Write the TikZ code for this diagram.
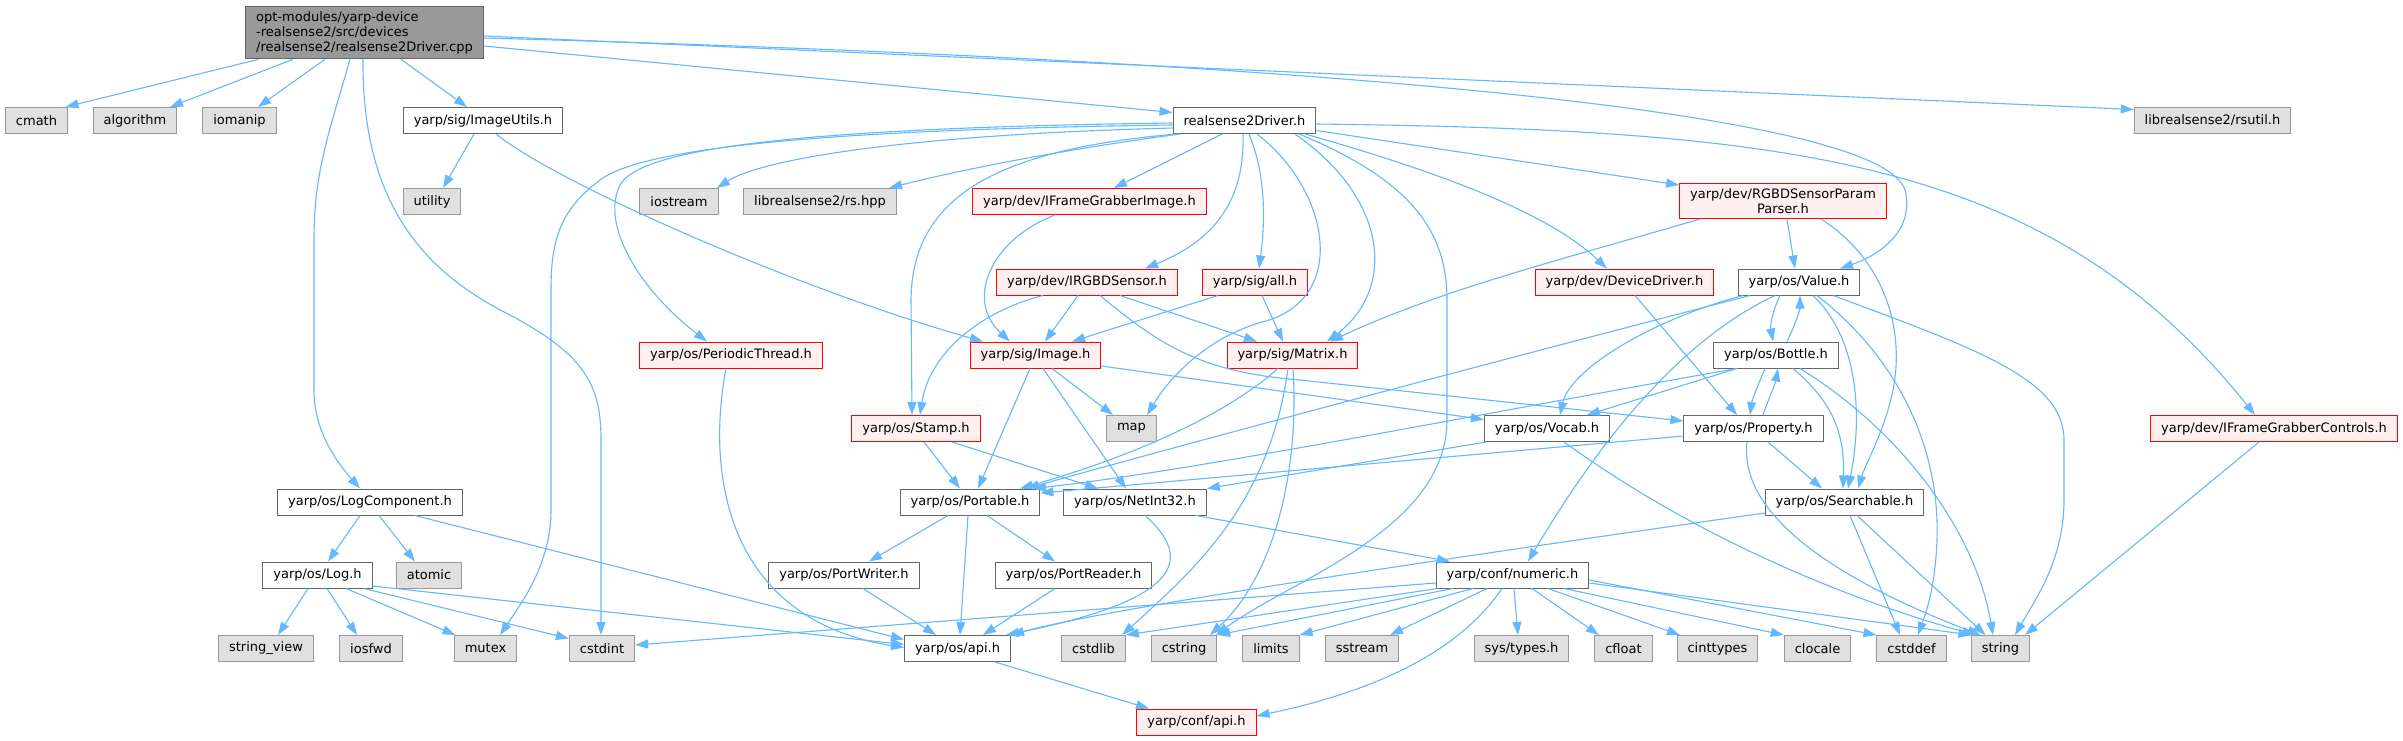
\documentclass[tikz,border=0pt]{standalone}
\usepackage{fontspec}
\setmainfont{DejaVu Sans}
\usepackage{xcolor}
\usepackage{tikz}
\usetikzlibrary{arrows.meta}
\definecolor{edgeblue}{HTML}{63B8FF}
\definecolor{sysfill}{HTML}{E0E0E0}
\definecolor{sysdraw}{HTML}{999999}
\definecolor{hdrdraw}{HTML}{666666}
\definecolor{redfill}{HTML}{FFF0F0}

\begin{document}
\begin{tikzpicture}[x=1pt,y=-1pt,font=\fontsize{13}{15}\selectfont,
  nbox/.style={draw,line width=1pt,minimum height=26pt,inner xsep=10.5pt,inner ysep=3pt},
  hdrbox/.style={nbox,draw=hdrdraw,fill=white},
  sysbox/.style={nbox,draw=sysdraw,fill=sysfill},
  redbox/.style={nbox,draw=red,fill=redfill},
  topbox/.style={nbox,draw=hdrdraw,fill=sysdraw,align=left,inner ysep=5pt},
  incl/.style={draw=edgeblue,line width=1.1pt,-{Triangle[length=13pt,width=9pt]}}]
  \useasboundingbox (0,0) rectangle (2403,740);
  \fill[white] (0,0) rectangle (2403,740);

  \node[topbox] (cpp) at (364.5,32.5) {opt-modules/yarp-device\\-realsense2/src/devices\\/realsense2/realsense2Driver.cpp};
  \node[sysbox] (cmath) at (36.5,120.5) {cmath};
  \node[sysbox] (algorithm) at (135,120.5) {algorithm};
  \node[sysbox] (iomanip) at (239.5,120.5) {iomanip};
  \node[hdrbox] (imgutils) at (483,120.5) {yarp/sig/ImageUtils.h};
  \node[hdrbox] (rsdrv) at (1244.5,120.5) {realsense2Driver.h};
  \node[sysbox] (rsutil) at (2212.5,120.5) {librealsense2/rsutil.h};
  \node[sysbox] (utility) at (432,201.5) {utility};
  \node[sysbox] (iostream) at (679,201.5) {iostream};
  \node[sysbox] (rshpp) at (820,201.5) {librealsense2/rs.hpp};
  \node[redbox] (fgimage) at (1089.5,201.5) {yarp/dev/IFrameGrabberImage.h};
  \node[redbox,align=center,inner ysep=5pt] (rgbdparser) at (1783,201) {yarp/dev/RGBDSensorParam\\Parser.h};
  \node[redbox] (irgbd) at (1087,282) {yarp/dev/IRGBDSensor.h};
  \node[redbox] (sigall) at (1255,282) {yarp/sig/all.h};
  \node[redbox] (devdrv) at (1624.5,282) {yarp/dev/DeviceDriver.h};
  \node[hdrbox] (value) at (1799,282) {yarp/os/Value.h};
  \node[redbox] (pthread) at (731,355) {yarp/os/PeriodicThread.h};
  \node[redbox] (image) at (1035.5,355) {yarp/sig/Image.h};
  \node[redbox] (matrix) at (1292.5,355) {yarp/sig/Matrix.h};
  \node[hdrbox] (bottle) at (1776,355) {yarp/os/Bottle.h};
  \node[redbox] (stamp) at (916,428.5) {yarp/os/Stamp.h};
  \node[sysbox] (map) at (1131.5,428.5) {map};
  \node[hdrbox] (vocab) at (1547,428.5) {yarp/os/Vocab.h};
  \node[hdrbox] (property) at (1753.5,428.5) {yarp/os/Property.h};
  \node[redbox] (fgctrl) at (2274,428.5) {yarp/dev/IFrameGrabberControls.h};
  \node[hdrbox] (logcomp) at (370,502) {yarp/os/LogComponent.h};
  \node[hdrbox] (portable) at (970,502) {yarp/os/Portable.h};
  \node[hdrbox] (netint) at (1135,502) {yarp/os/NetInt32.h};
  \node[hdrbox] (searchable) at (1844.5,502) {yarp/os/Searchable.h};
  \node[hdrbox] (log) at (317.5,575) {yarp/os/Log.h};
  \node[sysbox] (atomic) at (429,575) {atomic};
  \node[hdrbox] (pwriter) at (844,575) {yarp/os/PortWriter.h};
  \node[hdrbox] (preader) at (1073.5,575) {yarp/os/PortReader.h};
  \node[hdrbox] (numeric) at (1512.5,575) {yarp/conf/numeric.h};
  \node[sysbox] (strview) at (266,648.5) {string\_view};
  \node[sysbox] (iosfwd) at (371,648.5) {iosfwd};
  \node[sysbox] (mutex) at (485.5,648.5) {mutex};
  \node[sysbox] (cstdint) at (602,648.5) {cstdint};
  \node[hdrbox] (osapi) at (957.5,648.5) {yarp/os/api.h};
  \node[sysbox] (cstdlib) at (1093.5,648.5) {cstdlib};
  \node[sysbox] (cstring) at (1184,648.5) {cstring};
  \node[sysbox] (limits) at (1271,648.5) {limits};
  \node[sysbox] (sstream) at (1362,648.5) {sstream};
  \node[sysbox] (systypes) at (1521.5,648.5) {sys/types.h};
  \node[sysbox] (cfloat) at (1623.5,648.5) {cfloat};
  \node[sysbox] (cinttypes) at (1717.5,648.5) {cinttypes};
  \node[sysbox] (clocale) at (1817.5,648.5) {clocale};
  \node[sysbox] (cstddef) at (1911.5,648.5) {cstddef};
  \node[sysbox] (string) at (2000.5,648.5) {string};
  \node[redbox] (confapi) at (1196.5,722) {yarp/conf/api.h};

  \draw[incl] ([xshift=-106pt]cpp.south) -- ([xshift=29pt]cmath.north);
  \draw[incl] ([xshift=-71.5pt]cpp.south) -- ([xshift=35pt]algorithm.north);
  \draw[incl] ([xshift=-39.5pt]cpp.south) -- ([xshift=18.5pt]iomanip.north);
  \draw[incl] ([xshift=36.5pt]cpp.south) -- ([xshift=-16pt]imgutils.north);
  \draw[incl] ([xshift=-14.5pt]cpp.south) .. controls (330,130) and (314,170) .. (314,240) -- (314,390) .. controls (314,430) and (335,460) .. ([xshift=-10pt]logcomp.north);
  \draw[incl] ([xshift=-1.5pt]cpp.south) .. controls (362,200) and (420,270) .. (510,315) .. controls (585,355) and (601,385) .. (601,440) -- ([xshift=-1pt]cstdint.north);
  \draw[incl] ([yshift=-13.5pt]cpp.east) -- ([yshift=8pt]rsdrv.west);
  \draw[incl] ([yshift=-3.5pt]cpp.east) -- ([yshift=11pt]rsutil.west);
  \draw[incl] ([yshift=-5.5pt]cpp.east) .. controls (1300,60) and (1880,110) .. (1905,190) .. controls (1915,230) and (1880,255) .. ([xshift=41pt]value.north);

  \draw[incl] ([yshift=-4.5pt]rsdrv.west) .. controls (800,130) and (640,150) .. (600,180) .. controls (560,210) and (551,240) .. (551,290) -- (551,510) .. controls (551,565) and (520,605) .. ([xshift=14.5pt]mutex.north);
  \draw[incl] ([yshift=-2.5pt]rsdrv.west) .. controls (800,128) and (640,148) .. (620,185) .. controls (600,225) and (640,290) .. ([xshift=-24pt]pthread.north);
  \draw[incl] ([yshift=-7.5pt]rsdrv.west) .. controls (900,135) and (760,160) .. ([xshift=38pt]iostream.north);
  \draw[incl] ([xshift=-64.5pt]rsdrv.south) .. controls (1060,150) and (960,170) .. ([xshift=69pt]rshpp.north);
  \draw[incl] ([xshift=-67.5pt]rsdrv.south) .. controls (990,150) and (912,200) .. (911,300) -- ([xshift=-4pt]stamp.north);
  \draw[incl] ([xshift=-22.5pt]rsdrv.south) -- ([xshift=24.5pt]fgimage.north);
  \draw[incl] ([xshift=-1.5pt]rsdrv.south) .. controls (1245,200) and (1215,240) .. ([xshift=58pt]irgbd.north);
  \draw[incl] ([xshift=4.5pt]rsdrv.south) .. controls (1268,180) and (1264,230) .. ([xshift=4pt]sigall.north);
  \draw[incl] ([xshift=12.5pt]rsdrv.south) .. controls (1330,190) and (1350,300) .. (1262,322) .. controls (1200,340) and (1165,385) .. ([xshift=15.5pt]map.north);
  \draw[incl] ([xshift=50.5pt]rsdrv.south) .. controls (1390,200) and (1395,290) .. ([xshift=34.5pt]matrix.north);
  \draw[incl] ([xshift=54.5pt]rsdrv.south) .. controls (1410,180) and (1447,230) .. (1447,300) -- (1447,420) .. controls (1447,530) and (1290,580) .. ([xshift=32pt]cstring.north);
  \draw[incl] ([xshift=60.5pt]rsdrv.south) .. controls (1450,175) and (1550,215) .. ([xshift=-17.5pt]devdrv.north);
  \draw[incl] ([yshift=-10pt]rsdrv.east) -- ([yshift=16pt]rgbdparser.west);
  \draw[incl] ([yshift=-3.5pt]rsdrv.east) .. controls (1800,130) and (2050,160) .. ([xshift=-19pt]fgctrl.north);

  \draw[incl] ([xshift=-9pt]imgutils.south) -- ([xshift=11pt]utility.north);
  \draw[incl] ([xshift=13pt]imgutils.south) .. controls (560,185) and (800,290) .. ([xshift=-52.5pt]image.north);

  \draw[incl] ([xshift=-10pt]logcomp.south) -- ([xshift=10.5pt]log.north);
  \draw[incl] ([xshift=9pt]logcomp.south) -- ([xshift=-14pt]atomic.north);
  \draw[incl] ([xshift=45pt]logcomp.south) -- ([yshift=9pt]osapi.west);
  \draw[incl] ([xshift=-9.5pt]log.south) -- ([xshift=12pt]strview.north);
  \draw[incl] ([xshift=9.5pt]log.south) -- ([xshift=-14pt]iosfwd.north);
  \draw[incl] ([xshift=28.5pt]log.south) -- ([xshift=-30pt]mutex.north);
  \draw[incl] ([xshift=46.5pt]log.south) -- ([yshift=10pt]cstdint.west);
  \draw[incl] ([yshift=-11pt]log.east) -- ([yshift=4pt]osapi.west);
  \draw[incl] ([xshift=-5pt]pthread.south) .. controls (705,480) and (730,620) .. ([yshift=1pt]osapi.west);

  \draw[incl] ([xshift=8pt]stamp.south) -- ([xshift=-10pt]portable.north);
  \draw[incl] ([xshift=36pt]stamp.south) -- ([xshift=-37pt]netint.north);
  \draw[incl] ([xshift=-34.5pt]fgimage.south) .. controls (990,240) and (965,300) .. ([xshift=-25.5pt]image.north);
  \draw[incl] ([xshift=-44pt]irgbd.south) .. controls (985,310) and (930,350) .. ([xshift=4pt]stamp.north);
  \draw[incl] ([xshift=-9pt]irgbd.south) -- ([xshift=9.5pt]image.north);
  \draw[incl] ([xshift=33pt]irgbd.south) -- ([xshift=-35.5pt]matrix.north);
  \draw[incl] ([xshift=13pt]irgbd.south) .. controls (1160,345) and (1200,372) .. (1300,380) -- ([yshift=7.5pt]property.west);
  \draw[incl] ([xshift=-37pt]sigall.south) -- ([xshift=36.5pt]image.north);
  \draw[incl] ([xshift=7pt]sigall.south) -- ([xshift=-9.5pt]matrix.north);
  \draw[incl] ([xshift=-83pt]rgbdparser.south) .. controls (1560,260) and (1440,290) .. ([xshift=37.5pt]matrix.north);
  \draw[incl] ([xshift=4pt]rgbdparser.south) -- ([xshift=-4pt]value.north);
  \draw[incl] ([xshift=38pt]rgbdparser.south) .. controls (1885,260) and (1905,330) .. (1893,390) .. controls (1885,430) and (1865,465) .. ([xshift=13.5pt]searchable.north);
  \draw[incl] ([xshift=10.5pt]devdrv.south) -- ([xshift=-16.5pt]property.north);

  \draw[incl] ([xshift=-19pt]value.south) .. controls (1773,310) and (1770,325) .. ([xshift=-3pt]bottle.north);
  \draw[incl] ([xshift=-49pt]value.south) .. controls (1500,360) and (1200,440) .. ([xshift=56pt]portable.north);
  \draw[incl] ([xshift=-56pt]value.south) .. controls (1650,320) and (1570,370) .. ([xshift=13pt]vocab.north);
  \draw[incl] ([xshift=-24pt]value.south) .. controls (1680,340) and (1600,440) .. ([xshift=15.5pt]numeric.north);
  \draw[incl] ([xshift=14pt]value.south) .. controls (1860,340) and (1862,420) .. ([xshift=3.5pt]searchable.north);
  \draw[incl] ([xshift=18pt]value.south) .. controls (1900,360) and (1940,450) .. (1937,540) .. controls (1935,590) and (1925,615) .. ([xshift=6.5pt]cstddef.north);
  \draw[incl] ([xshift=34pt]value.south) .. controls (1980,350) and (2064,380) .. (2064,440) -- (2064,500) .. controls (2064,560) and (2035,600) .. ([xshift=14.5pt]string.north);
  \draw[incl] ([xshift=11pt]bottle.north) .. controls (1795,325) and (1800,310) .. ([xshift=1pt]value.south);
  \draw[incl] ([xshift=-39pt]bottle.south) .. controls (1500,410) and (1200,470) .. ([xshift=63pt]portable.north);
  \draw[incl] ([xshift=-39pt]bottle.south) -- ([xshift=40pt]vocab.north);
  \draw[incl] ([xshift=-11pt]bottle.south) .. controls (1758,385) and (1752,400) .. ([xshift=-3.5pt]property.north);
  \draw[incl] ([xshift=17pt]bottle.south) .. controls (1830,400) and (1845,430) .. ([xshift=-1.5pt]searchable.north);
  \draw[incl] ([xshift=24pt]bottle.south) .. controls (1900,430) and (1975,530) .. ([xshift=-7.5pt]string.north);
  \draw[incl] ([xshift=9.5pt]property.north) .. controls (1768,400) and (1775,385) .. ([xshift=2pt]bottle.south);
  \draw[incl] ([yshift=-7.5pt]property.west) -- ([yshift=9pt]portable.east);
  \draw[incl] ([xshift=14.5pt]property.south) -- ([xshift=-22.5pt]searchable.north);
  \draw[incl] ([xshift=-6.5pt]property.south) .. controls (1738,520) and (1850,585) .. ([xshift=-20pt]string.north);
  \draw[incl] ([xshift=-61pt]vocab.south) -- (netint.north east);
  \draw[incl] ([xshift=17pt]vocab.south) .. controls (1700,540) and (1850,600) .. ([xshift=-25pt]string.north);

  \draw[incl] ([xshift=-5.5pt]image.south) -- ([xshift=8pt]portable.north);
  \draw[incl] ([xshift=7.5pt]image.south) -- ([xshift=-9pt]netint.north);
  \draw[incl] ([xshift=16.5pt]image.south) -- ([xshift=-18.5pt]map.north);
  \draw[incl] ([yshift=-11pt]image.east) -- ([yshift=9pt]vocab.west);
  \draw[incl] ([xshift=-14.5pt]matrix.south) .. controls (1220,420) and (1120,460) .. ([xshift=50pt]portable.north);
  \draw[incl] ([xshift=-4.5pt]matrix.south) .. controls (1270,500) and (1200,565) .. ([xshift=28.5pt]cstdlib.north);
  \draw[incl] ([xshift=0.5pt]matrix.south) .. controls (1300,480) and (1270,580) .. ([xshift=26pt]cstring.north);

  \draw[incl] ([xshift=-22pt]portable.south) -- ([xshift=25pt]pwriter.north);
  \draw[incl] ([xshift=17pt]portable.south) -- ([xshift=-18.5pt]preader.north);
  \draw[incl] ([xshift=-2pt]portable.south) -- ([xshift=2.5pt]osapi.north);
  \draw[incl] ([xshift=10pt]netint.south) .. controls (1195,560) and (1180,600) .. ([xshift=-5pt]osapi.north east);
  \draw[incl] ([xshift=61pt]netint.south) -- ([xshift=-62.5pt]numeric.north);
  \draw[incl] ([xshift=19pt]pwriter.south) -- ([xshift=-21.5pt]osapi.north);
  \draw[incl] ([xshift=-18.5pt]preader.south) -- ([xshift=25.5pt]osapi.north);
  \draw[incl] ([yshift=-11pt]searchable.west) .. controls (1400,565) and (1100,610) .. (osapi.north east);
  \draw[incl] ([xshift=5.5pt]searchable.south) -- ([xshift=-11.5pt]cstddef.north);
  \draw[incl] ([xshift=12.5pt]searchable.south) -- ([xshift=-15pt]string.north);
  \draw[incl] ([xshift=-15pt]fgctrl.south) -- ([xshift=24.5pt]string.north);

  \draw[incl] ([yshift=-8pt]numeric.west) -- ([yshift=3.5pt]cstdint.east);
  \draw[incl] ([xshift=-75pt]numeric.south) -- (cstdlib.north east);
  \draw[incl] ([xshift=-59.5pt]numeric.south) -- (cstring.north east);
  \draw[incl] ([xshift=-39.5pt]numeric.south) -- (limits.north east);
  \draw[incl] ([xshift=-25.5pt]numeric.south) -- ([xshift=28pt]sstream.north);
  \draw[incl] ([xshift=-10.5pt]numeric.south) .. controls (1460,650) and (1380,690) .. ([yshift=6pt]confapi.east);
  \draw[incl] ([xshift=1.5pt]numeric.south) -- ([xshift=-3.5pt]systypes.north);
  \draw[incl] ([xshift=19.5pt]numeric.south) -- ([xshift=-24.5pt]cfloat.north);
  \draw[incl] ([xshift=35.5pt]numeric.south) -- ([xshift=-37.5pt]cinttypes.north);
  \draw[incl] ([xshift=51.5pt]numeric.south) -- (clocale.north west);
  \draw[incl] ([yshift=-5pt]numeric.east) -- (cstddef.north west);
  \draw[incl] ([yshift=-8pt]numeric.east) -- ([xshift=-29pt]string.north);
  \draw[incl] ([xshift=37.5pt]osapi.south) -- ([xshift=-47.5pt]confapi.north);
\end{tikzpicture}
\end{document}
